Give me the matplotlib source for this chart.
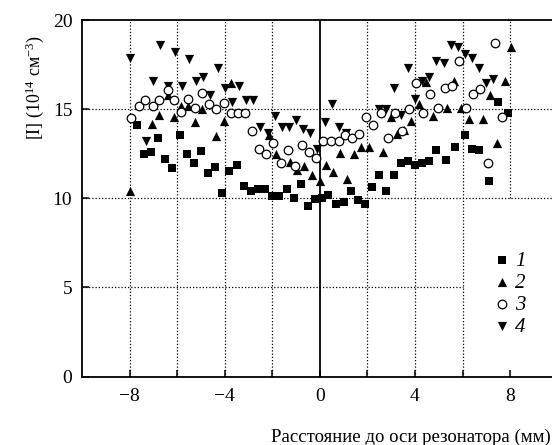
import matplotlib
matplotlib.use("Agg")
import matplotlib.pyplot as plt

plt.rcParams["font.family"] = ["Liberation Serif", "DejaVu Serif"]
plt.rcParams["mathtext.fontset"] = "custom"
plt.rcParams["mathtext.rm"] = "Liberation Serif"
plt.rcParams["mathtext.it"] = "Liberation Serif:italic"

# series 1 - squares
x1 = [-7.7, -7.4, -7.1, -6.8, -6.5, -6.2, -5.9, -5.6, -5.3, -5.0,
      -4.7, -4.4, -4.1, -3.8, -3.5, -3.2, -2.9, -2.6, -2.3, -2.0,
      -1.7, -1.4, -1.1, -0.8, -0.5, -0.2, 0.1, 0.35, 0.7, 1.0,
      1.3, 1.6, 1.9, 2.2, 2.5, 2.8, 3.1, 3.4, 3.7, 4.0,
      4.3, 4.6, 4.9, 5.3, 5.7, 6.1, 6.4, 6.7, 7.1, 7.5, 7.9]
y1 = [14.1, 12.5, 12.6, 13.4, 12.2, 11.7, 13.55, 12.5, 12.0, 12.65,
      11.45, 11.75, 10.3, 11.55, 11.9, 10.7, 10.4, 10.55, 10.5, 10.15,
      10.15, 10.55, 10.05, 10.8, 9.55, 9.95, 10.0, 10.2, 9.7, 9.8,
      10.4, 9.9, 9.7, 10.65, 11.3, 10.4, 11.3, 12.0, 12.1, 11.9,
      12.0, 12.1, 12.7, 12.15, 12.9, 13.55, 12.8, 12.7, 11.0, 15.4, 14.8]

# series 2 - up triangles
x2 = [-8.0, -7.05, -6.75, -6.4, -6.15, -5.85, -5.55, -5.25, -4.95, -4.35,
      -4.05, -3.75, -2.15, -1.85, -1.25, -0.95, -0.65, -0.35, 0.0, 0.25,
      0.55, 0.85, 1.15, 1.45, 1.75, 2.05, 2.65, 3.0, 3.25, 3.55,
      3.85, 4.15, 4.45, 4.75, 5.35, 5.65, 5.95, 6.25, 6.85, 7.15,
      7.45, 7.8, 8.05]
y2 = [10.4, 14.2, 14.7, 15.8, 14.55, 15.2, 15.2, 14.3, 15.0, 13.5,
      14.35, 16.5, 13.55, 12.5, 12.05, 11.6, 11.8, 11.3, 11.0, 11.85,
      11.5, 12.55, 11.1, 12.5, 12.9, 12.9, 12.6, 14.55, 13.6, 13.85,
      14.35, 15.3, 16.55, 14.6, 15.05, 16.6, 15.05, 14.45, 14.45, 15.8,
      13.1, 16.6, 18.5]

# series 3 - open circles
x3 = [-7.95, -7.6, -7.35, -7.0, -6.75, -6.4, -6.15, -5.85, -5.55, -5.25,
      -4.95, -4.65, -4.35, -4.05, -3.75, -3.45, -3.15, -2.85, -2.55, -2.25,
      -1.95, -1.65, -1.35, -1.05, -0.75, -0.45, -0.15, 0.15, 0.45, 0.8,
      1.05, 1.35, 1.65, 1.95, 2.25, 2.55, 2.85, 3.15, 3.45, 3.75,
      4.05, 4.35, 4.65, 4.95, 5.25, 5.55, 5.85, 6.15, 6.45, 6.75,
      7.05, 7.35, 7.65]
y3 = [14.5, 15.2, 15.5, 15.2, 15.5, 16.1, 15.55, 14.85, 15.6, 15.05,
      15.9, 15.3, 15.0, 15.35, 14.8, 14.8, 14.8, 13.8, 12.8, 12.5,
      13.1, 12.0, 12.7, 11.8, 13.0, 12.6, 12.25, 13.2, 13.2, 13.25,
      13.55, 13.4, 13.6, 14.55, 14.1, 14.8, 13.4, 14.8, 13.8, 15.0,
      16.5, 14.8, 15.85, 15.1, 16.2, 16.3, 17.7, 15.1, 15.85, 16.15,
      12.0, 18.75, 14.55]

# series 4 - down triangles
x4 = [-8.0, -7.3, -7.0, -6.7, -6.4, -6.1, -5.8, -5.5, -5.2, -4.9,
      -4.6, -4.3, -4.0, -3.7, -3.4, -3.1, -2.8, -2.5, -2.2, -1.9,
      -1.6, -1.3, -1.0, -0.7, -0.4, -0.1, 0.2, 0.5, 0.8, 1.1,
      2.5, 2.8, 3.1, 3.4, 3.7, 4.0, 4.3, 4.6, 4.9, 5.2,
      5.5, 5.8, 6.1, 6.4, 6.7, 7.0, 7.3]
y4 = [17.9, 13.2, 16.6, 18.6, 16.3, 18.2, 16.3, 17.8, 16.6, 16.8,
      15.8, 17.3, 16.2, 15.4, 16.3, 15.5, 15.5, 14.0, 13.7, 14.6,
      14.0, 14.0, 14.4, 13.9, 13.7, 12.8, 14.3, 15.3, 14.0, 13.7,
      15.0, 15.0, 16.2, 14.7, 17.3, 15.6, 16.6, 16.8, 17.7, 17.6,
      18.6, 18.5, 18.1, 17.9, 17.3, 16.5, 16.7]

labels = ["1", "2", "3", "4"]

fig = plt.figure(figsize=(5.52, 4.45), dpi=100)
ax = fig.add_axes([82 / 552, 68.5 / 445, 475.7 / 552, 356.2 / 445])

dots = (0, (1, 1.6))
ax.vlines([-8, -6, -4, -2, 2, 4, 6], 0, 20, colors="k", linestyles=dots, lw=0.9, zorder=1)
ax.vlines([8], 10, 20, colors="k", linestyles=dots, lw=0.9, zorder=1)
ax.hlines([10, 15], -10, 10, colors="k", linestyles=dots, lw=0.9, zorder=1)
ax.hlines([5], -10, 6, colors="k", linestyles=dots, lw=0.9, zorder=1)
ax.axvline(0, color="k", lw=1.3, zorder=1)

ax.scatter(x1, y1, marker="s", s=32, c="k", lw=0, zorder=3, label=labels[0])
ax.scatter(x2, y2, marker="^", s=44, c="k", lw=0, zorder=3, label=labels[1])
ax.scatter(x3, y3, marker="o", s=38, facecolors="white", edgecolors="k", lw=0.9, zorder=4, label=labels[2])
ax.scatter(x4, y4, marker="v", s=44, c="k", lw=0, zorder=3, label=labels[3])

ax.set_xlim(-10, 10)
ax.set_ylim(0, 20)
ax.set_xticks([-8, -4, 0, 4, 8])
ax.set_xticklabels(["\u22128", "\u22124", "0", "4", "8"])
ax.set_xticks([-6, -2, 2, 6], minor=True)
ax.set_yticks([0, 5, 10, 15, 20])
ax.tick_params(which="both", direction="in", length=5, width=1.1, labelsize=14)
ax.tick_params(axis="x", pad=8)
ax.tick_params(axis="y", pad=7)
ax.spines["right"].set_visible(False)
for s in ["left", "top", "bottom"]:
    ax.spines[s].set_linewidth(1.3)

leg = ax.legend(loc="upper left", bbox_to_anchor=(0.865, 0.352), frameon=False,
                prop={"style": "italic", "size": 15},
                handletextpad=0.25, labelspacing=0.12, markerscale=1.0,
                borderpad=0, borderaxespad=0, handlelength=0.8)

fig.text(35 / 552, 1 - 88 / 445, "[I] (10$^{14}$ см$^{-3}$)", rotation=90,
         ha="center", va="center", fontsize=13)
fig.text(551 / 552, 1 - 437 / 445, "Расстояние до оси резонатора (мм)",
         ha="right", va="center", fontsize=13.5)

fig.savefig("out.png", dpi=100)
